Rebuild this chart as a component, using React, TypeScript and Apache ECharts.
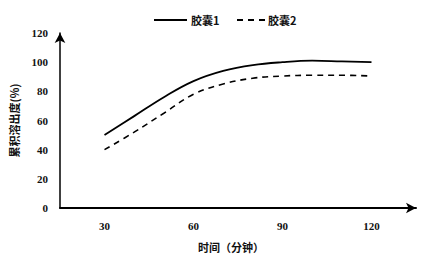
import React, { useEffect, useRef } from "react";
import * as echarts from "echarts";

const times = [30, 40, 50, 60, 70, 80, 90, 100, 110, 120];
const capsule1 = [50, 63, 76, 87, 94, 98, 100, 101, 100.5, 100];
const capsule2 = [40, 52, 65, 78, 85, 89, 90.5, 91, 91, 90.5];
const xTickLabels = [30, 60, 90, 120];
const seriesNames = ["胶囊1", "胶囊2"];

const numFont = "'Liberation Serif', 'Noto Sans CJK SC', serif";
const cjkFont = "'Noto Sans CJK SC', sans-serif";

export default function App() {
  const ref = useRef<HTMLDivElement>(null);
  useEffect(() => {
    if (!ref.current) return;
    const chart = echarts.init(ref.current, undefined, { renderer: "svg" });
    const pts = (arr: number[]) => times.map((t, i) => [t, arr[i]]);
    const legendText = { fontFamily: cjkFont, fontSize: 11, fill: "#111", fontWeight: "bold" };
    chart.setOption({
      animation: false,
      backgroundColor: "#fff",
      graphic: [
        { type: "line", shape: { x1: 154, y1: 20, x2: 187, y2: 20 }, style: { stroke: "#000", lineWidth: 1.8 } },
        { type: "text", x: 191, y: 20, style: { ...legendText, text: seriesNames[0], verticalAlign: "middle" } },
        { type: "line", shape: { x1: 237, y1: 20, x2: 265, y2: 20 }, style: { stroke: "#000", lineWidth: 1.8, lineDash: [6, 5] } },
        { type: "text", x: 268, y: 20, style: { ...legendText, text: seriesNames[1], verticalAlign: "middle" } },
      ],
      grid: { left: 59, right: 10, top: 33, bottom: 48, containLabel: false },
      xAxis: {
        type: "value",
        min: 15,
        max: 135,
        interval: 15,
        name: "时间（分钟）",
        nameLocation: "middle",
        nameGap: 33,
        nameTextStyle: { fontFamily: cjkFont, fontSize: 11, color: "#111", fontWeight: "bold", padding: [0, 14, 0, 0] },
        axisLine: {
          show: true,
          symbol: ["none", "arrow"],
          symbolSize: [8, 10],
          lineStyle: { color: "#000", width: 2 },
        },
        axisTick: { show: false },
        splitLine: { show: false },
        axisLabel: {
          margin: 12,
          fontFamily: numFont,
          fontSize: 11,
          fontWeight: "bold",
          color: "#111",
          formatter: (v: number) => (xTickLabels.includes(v) ? String(v) : ""),
        },
      },
      yAxis: {
        type: "value",
        min: 0,
        max: 120,
        interval: 20,
        name: "累积溶出度(%)",
        nameLocation: "middle",
        nameGap: 41,
        nameRotate: 90,
        nameTextStyle: { fontFamily: cjkFont, fontSize: 11, color: "#111", fontWeight: "bold" },
        axisLine: {
          show: true,
          symbol: ["none", "arrow"],
          symbolSize: [8, 10],
          lineStyle: { color: "#000", width: 1.5 },
        },
        axisTick: { show: false },
        splitLine: { show: false },
        axisLabel: {
          margin: 12,
          fontFamily: numFont,
          fontSize: 11,
          fontWeight: "bold",
          color: "#111",
        },
      },
      series: [
        {
          name: seriesNames[0],
          type: "line",
          data: pts(capsule1),
          smooth: 0.4,
          showSymbol: false,
          symbol: "none",
          lineStyle: { color: "#000", width: 1.8, type: "solid" },
          itemStyle: { color: "#000" },
        },
        {
          name: seriesNames[1],
          type: "line",
          data: pts(capsule2),
          smooth: 0.4,
          showSymbol: false,
          symbol: "none",
          lineStyle: { color: "#000", width: 1.6, type: [6, 5] },
          itemStyle: { color: "#000" },
        },
      ],
    });
    return () => chart.dispose();
  }, []);
  return <div ref={ref} style={{ width: 426, height: 257, position: "absolute", left: 0, top: 0 }} />;
}
